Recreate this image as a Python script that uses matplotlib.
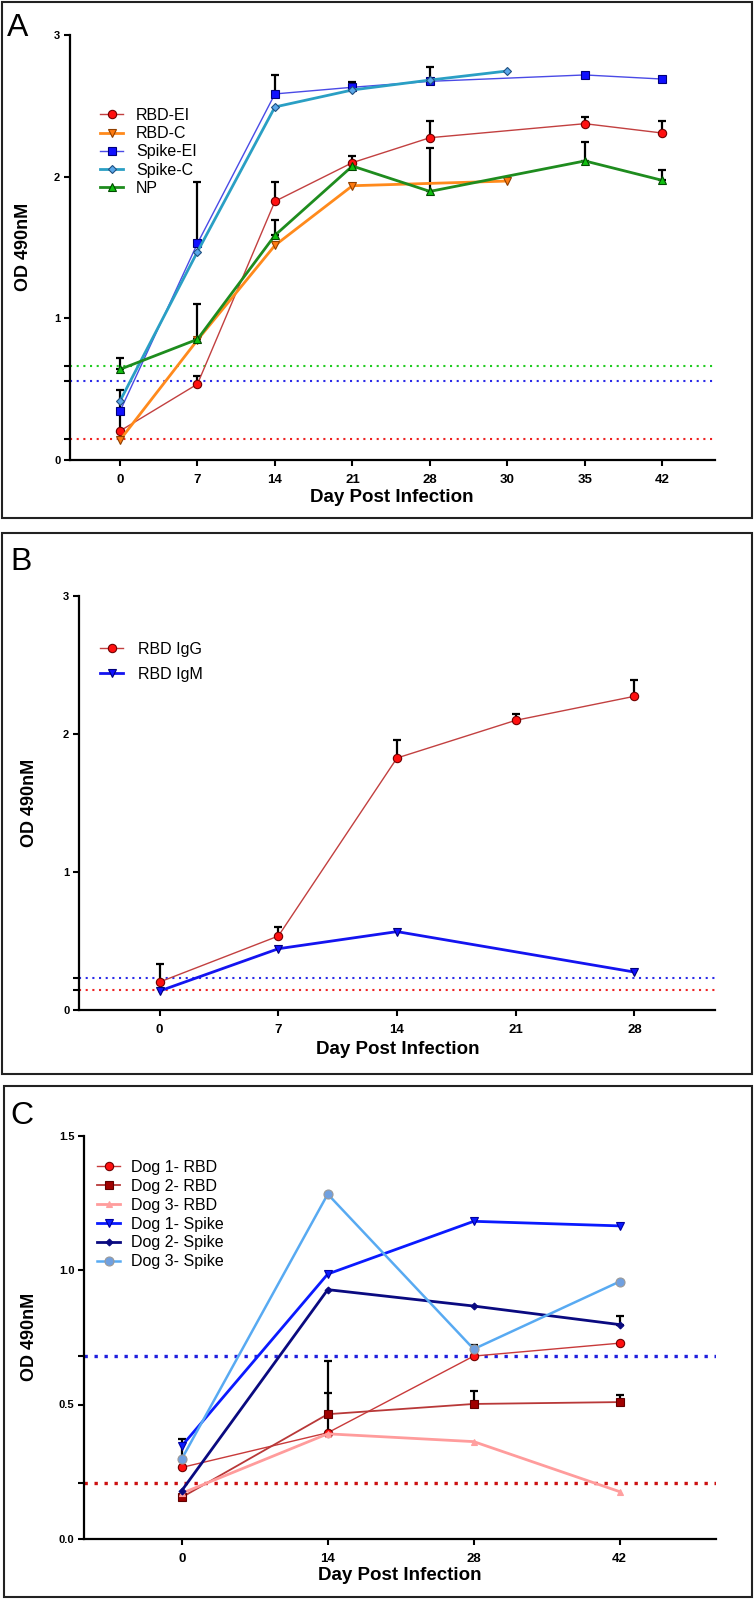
import numpy as np
import matplotlib
matplotlib.use("Agg")
import matplotlib.pyplot as plt
from matplotlib.patches import Rectangle

nan = np.nan

# ---------------- Panel A data ----------------
a_days = ["0", "7", "14", "21", "28", "30", "35", "42"]
a_rbd_ei = [0.205, 0.536, 1.826, 2.099, 2.275, nan, 2.374, 2.308]
a_rbd_ei_err = [0.13, 0.059, 0.134, 0.047, 0.115, nan, 0.046, 0.087]
a_rbd_c = [0.141, 0.847, 1.515, 1.936, nan, 1.969, nan, nan]
a_spike_ei = [0.344, 1.529, 2.584, 2.631, 2.673, nan, 2.718, 2.689]
a_spike_ei_err = [0.15, 0.43, 0.136, 0.035, 0.10, nan, 0.012, 0.012]
a_spike_c = [0.416, 1.47, 2.492, 2.612, 2.682, 2.746, nan, nan]
a_np = [0.640, 0.852, 1.586, 2.075, 1.896, nan, 2.111, 1.974]
a_np_err = [0.082, 0.249, 0.108, 0.0, 0.309, nan, 0.134, 0.073]
a_cutoffs = [0.664, 0.560, 0.146]  # NP, Spike, RBD

# ---------------- Panel B data ----------------
b_days = ["0", "7", "14", "21", "28"]
b_igg = [0.203, 0.536, 1.826, 2.099, 2.273]
b_igg_err = [0.13, 0.063, 0.133, 0.048, 0.118]
b_igm = [0.138, 0.444, 0.568, nan, 0.275]
b_cutoffs = [0.229, 0.145]  # IgM, IgG

# ---------------- Panel C data ----------------
c_days = ["0", "14", "28", "42"]
c_dog1_rbd = [0.266, 0.395, 0.680, 0.728]
c_dog1_rbd_err = [0.104, 0.147, 0.04, 0.0]
c_dog2_rbd = [0.155, 0.464, 0.502, 0.509]
c_dog2_rbd_err = [0.0, 0.196, 0.049, 0.026]
c_dog3_rbd = [0.170, 0.391, 0.362, 0.176]
c_dog1_spike = [0.346, 0.985, 1.181, 1.164]
c_dog2_spike = [0.180, 0.927, 0.866, 0.797]
c_dog2_spike_err = [0.0, 0.0, 0.0, 0.031]
c_dog3_spike = [0.298, 1.282, 0.706, 0.957]
c_cutoffs = [0.682, 0.210]  # Spike, RBD

W, H = 754, 1599
fig = plt.figure(figsize=(W / 100, H / 100), dpi=100)

NARROW = ["Liberation Sans Narrow", "Liberation Sans", "DejaVu Sans"]
SANS = ["Liberation Sans", "DejaVu Sans"]
LEG_FS = 11.5


def ax_at(left, right, top, bottom):
    return fig.add_axes([left / W, 1 - bottom / H, (right - left) / W, (bottom - top) / H])


def fx(px):
    return px / W


def fy(py):
    return 1 - py / H


def style_axes(ax, xlabels, xlim, ylim, yticks, ylabels, extra_ticks):
    ax.set_xlim(*xlim)
    ax.set_ylim(*ylim)
    for s in ("top", "right"):
        ax.spines[s].set_visible(False)
    for s in ("left", "bottom"):
        ax.spines[s].set_linewidth(1.6)
    ax.set_xticks(range(len(xlabels)))
    ax.set_xticklabels(xlabels, fontfamily=NARROW, fontweight="bold", fontsize=9.5)
    ax.set_yticks(yticks)
    ax.set_yticklabels(ylabels, fontfamily=NARROW, fontweight="bold", fontsize=8)
    ax.set_yticks(extra_ticks, minor=True)
    ax.tick_params(axis="both", which="major", length=4, width=1.5, direction="out", pad=3)
    ax.tick_params(axis="y", which="minor", length=4, width=1.5, direction="out")
    ax.tick_params(axis="x", which="major", pad=6)


def series(ax, vals, color, lw, marker, mfc, mec, ms, label, err=None, mew=0.8, z=3):
    x = np.arange(len(vals))
    v = np.array(vals, dtype=float)
    m = ~np.isnan(v)
    if err is not None:
        e = np.array(err, dtype=float)
        mm = m & ~np.isnan(e) & (e > 0)
        ax.errorbar(x[mm], v[mm], yerr=[np.zeros(mm.sum()), e[mm]], fmt="none",
                    ecolor="black", elinewidth=1.6, capsize=3.2, capthick=1.6, zorder=2)
    ax.plot(x[m], v[m], color=color, lw=lw, marker=marker, mfc=mfc, mec=mec, ms=ms,
            mew=mew, label=label, zorder=z)


def box(x0, x1, y0, y1):
    fig.add_artist(Rectangle((fx(x0), fy(y1)), (x1 - x0) / W, (y1 - y0) / H,
                             transform=fig.transFigure, fill=False, lw=1.5, ec="#222222"))


def legend(ax, x, y, spacing, textpad=0.8):
    ax.legend(loc="upper left", bbox_to_anchor=(fx(x), fy(y)), bbox_transform=fig.transFigure,
              frameon=False, prop={"family": SANS, "size": LEG_FS}, handlelength=1.45,
              handletextpad=textpad, labelspacing=spacing, borderpad=0, borderaxespad=0)


# ---------------- Panel A ----------------
box(2, 752, 2, 518)
axA = ax_at(70, 715, 35, 460)
style_axes(axA, a_days, (-0.645, 7.68), (0, 3), [0, 1, 2, 3], ["0", "1", "2", "3"], a_cutoffs)
for yv, c in zip(a_cutoffs, ["#22cc22", "#2a2ae8", "#ee2222"]):
    axA.axhline(yv, color=c, ls=(0, (1, 2.2)), lw=1.5, zorder=1)
series(axA, a_rbd_ei, "#c24040", 1.0, "o", "#ff1010", "#700000", 6, "RBD-EI", a_rbd_ei_err)
series(axA, a_rbd_c, "#ff8a1c", 2.0, "v", "#ff7a10", "#904000", 6, "RBD-C")
series(axA, a_spike_ei, "#4a4ae6", 1.0, "s", "#1010ff", "#00007a", 6, "Spike-EI", a_spike_ei_err)
series(axA, a_spike_c, "#2a9fc4", 2.0, "D", "#5aa8ea", "#205080", 4.5, "Spike-C")
series(axA, a_np, "#1e8c1e", 2.0, "^", "#10c010", "#004a00", 6, "NP", a_np_err)
legend(axA, 100, 108, 0.2)
fig.text(fx(7), fy(36), "A", fontsize=23, fontfamily=SANS, va="baseline", ha="left")
fig.text(fx(392), fy(497), "Day Post Infection", fontsize=13.5, fontweight="bold",
         fontfamily=NARROW, ha="center", va="center")
fig.text(fx(24), fy(247), "OD 490nM", fontsize=13, fontweight="bold", fontfamily=SANS,
         rotation=90, ha="center", va="center")

# ---------------- Panel B ----------------
box(2, 752, 533, 1074)
axB = ax_at(79, 715, 596, 1010)
style_axes(axB, b_days, (-0.68, 4.68), (0, 3), [0, 1, 2, 3], ["0", "1", "2", "3"], b_cutoffs)
for yv, c in zip(b_cutoffs, ["#2a2ae8", "#ee2222"]):
    axB.axhline(yv, color=c, ls=(0, (1, 2.2)), lw=1.5, zorder=1)
series(axB, b_igg, "#c24040", 1.0, "o", "#ff1010", "#700000", 6, "RBD IgG", b_igg_err)
series(axB, b_igm, "#1414f0", 2.0, "v", "#1010ff", "#00007a", 6, "RBD IgM")
legend(axB, 100, 642, 0.62, 0.9)
fig.text(fx(10), fy(570), "B", fontsize=23, fontfamily=SANS, va="baseline", ha="left")
fig.text(fx(398), fy(1049), "Day Post Infection", fontsize=13.5, fontweight="bold",
         fontfamily=NARROW, ha="center", va="center")
fig.text(fx(29), fy(803), "OD 490nM", fontsize=13, fontweight="bold", fontfamily=SANS,
         rotation=90, ha="center", va="center")

# ---------------- Panel C ----------------
box(4, 752, 1086, 1597)
axC = ax_at(84, 716, 1135.5, 1539)
style_axes(axC, c_days, (-0.67, 3.66), (0, 1.5), [0, 0.5, 1.0, 1.5],
           ["0.0", "0.5", "1.0", "1.5"], c_cutoffs)
for yv, c in zip(c_cutoffs, ["#2020dd", "#cc1010"]):
    axC.axhline(yv, color=c, ls=(0, (1, 2.0)), lw=2.4, zorder=1)
series(axC, c_dog1_rbd, "#c83a3a", 1.0, "o", "#ff1010", "#700000", 6, "Dog 1- RBD", c_dog1_rbd_err)
series(axC, c_dog2_rbd, "#b83838", 1.3, "s", "#a00000", "#600000", 5.5, "Dog 2- RBD", c_dog2_rbd_err)
series(axC, c_dog3_rbd, "#ff9c9c", 2.0, "^", "#ffa0a0", "#ffa0a0", 5, "Dog 3- RBD")
series(axC, c_dog1_spike, "#0a1aff", 2.0, "v", "#0a1aff", "#0000a0", 5.5, "Dog 1- Spike")
series(axC, c_dog2_spike, "#0a0a80", 2.0, "D", "#0a0a80", "#0a0a80", 3.5, "Dog 2- Spike", c_dog2_spike_err)
series(axC, c_dog3_spike, "#58aaf2", 1.8, "o", "#70a0e0", "#9a9a9a", 6.5, "Dog 3- Spike")
legend(axC, 97, 1160, 0.24, 0.7)
fig.text(fx(10), fy(1124), "C", fontsize=23, fontfamily=SANS, va="baseline", ha="left")
fig.text(fx(400), fy(1576), "Day Post Infection", fontsize=13.5, fontweight="bold",
         fontfamily=NARROW, ha="center", va="center")
fig.text(fx(29), fy(1337), "OD 490nM", fontsize=13, fontweight="bold", fontfamily=SANS,
         rotation=90, ha="center", va="center")

fig.savefig("out.png", dpi=100)
